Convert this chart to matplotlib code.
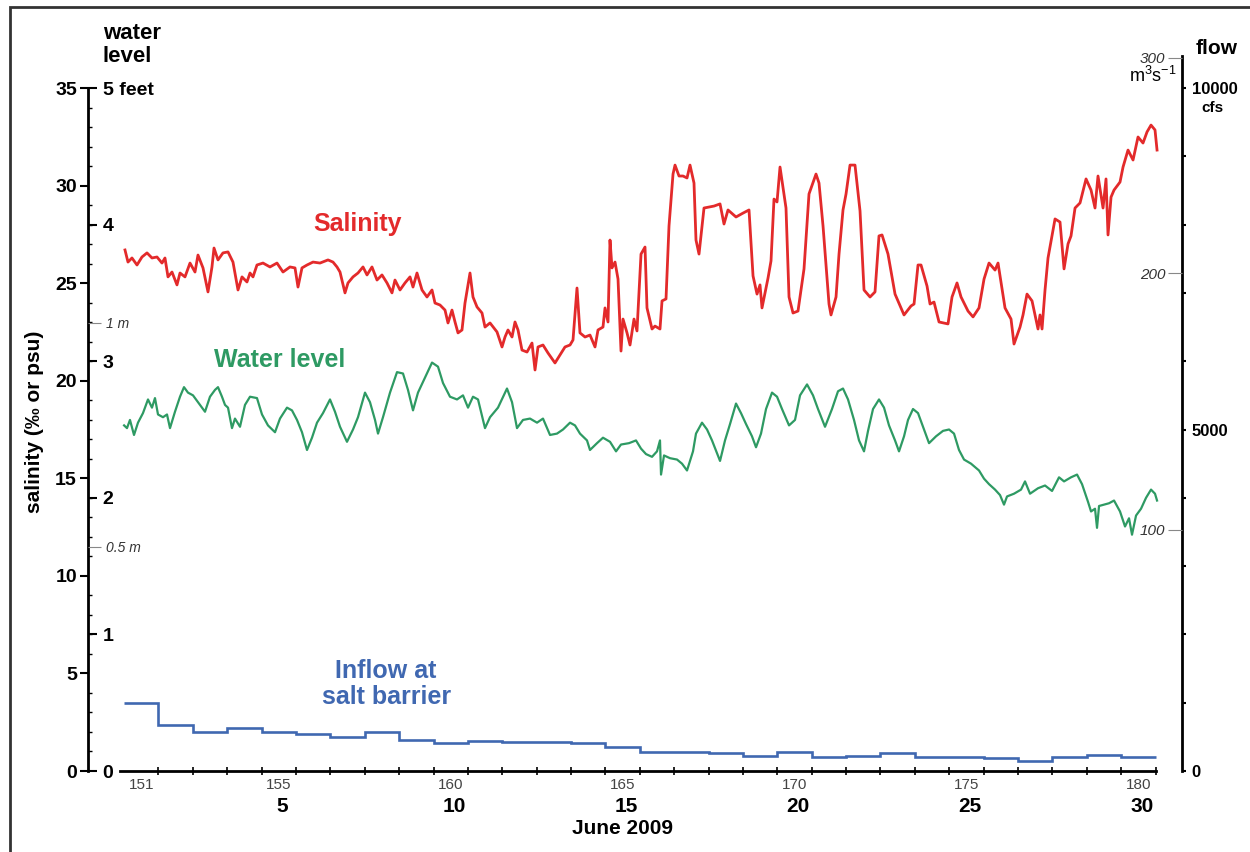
import matplotlib
matplotlib.use('Agg')
import matplotlib.pyplot as plt
from matplotlib.patches import Rectangle
from matplotlib.ticker import MultipleLocator, NullLocator, FixedLocator

plt.rcParams['font.family'] = ['Liberation Sans', 'DejaVu Sans']
plt.rcParams['mathtext.fontset'] = 'custom'
plt.rcParams['mathtext.rm'] = 'Liberation Sans'
plt.rcParams['mathtext.default'] = 'rm'

# ---- data (day of year 2009) ----
# salinity, psu
sal_day = [151.026, 151.113, 151.229, 151.375, 151.520, 151.666, 151.811, 151.957, 152.102, 152.189,
           152.277, 152.393, 152.538, 152.626, 152.771, 152.917, 153.062, 153.149, 153.295, 153.440,
           153.556, 153.615, 153.731, 153.876, 154.022, 154.167, 154.313, 154.429, 154.574, 154.662,
           154.749, 154.865, 155.040, 155.243, 155.447, 155.622, 155.825, 155.971, 156.058, 156.174,
           156.320, 156.494, 156.698, 156.931, 157.076, 157.192, 157.280, 157.425, 157.512, 157.658,
           157.803, 157.949, 158.065, 158.210, 158.356, 158.501, 158.647, 158.792, 158.879, 159.025,
           159.170, 159.316, 159.403, 159.519, 159.665, 159.810, 159.956, 160.043, 160.188, 160.334,
           160.421, 160.537, 160.625, 160.712, 160.828, 160.915, 161.061, 161.148, 161.265, 161.410,
           161.497, 161.643, 161.846, 161.992, 162.079, 162.166, 162.283, 162.370, 162.457, 162.573,
           162.719, 162.864, 162.952, 163.039, 163.184, 163.330, 163.533, 163.679, 163.824, 163.970,
           164.057, 164.173, 164.260, 164.406, 164.551, 164.697, 164.784, 164.929, 164.988, 165.075,
           165.133, 165.191, 165.279, 165.366, 165.453, 165.511, 165.628, 165.715, 165.831, 165.918,
           166.035, 166.151, 166.209, 166.355, 166.442, 166.587, 166.646, 166.762, 166.849, 166.966,
           167.024, 167.140, 167.256, 167.373, 167.460, 167.576, 167.634, 167.722, 167.867, 168.158,
           168.333, 168.449, 168.565, 168.798, 169.002, 169.176, 169.293, 169.409, 169.496, 169.554,
           169.729, 169.816, 169.903, 169.991, 170.078, 170.252, 170.340, 170.456, 170.601, 170.776,
           170.921, 171.125, 171.212, 171.329, 171.503, 171.561, 171.707, 171.794, 171.910, 171.998,
           172.114, 172.259, 172.405, 172.521, 172.696, 172.841, 172.957, 173.045, 173.219, 173.423,
           173.685, 173.888, 173.976, 174.092, 174.179, 174.354, 174.441, 174.557, 174.703, 174.964,
           175.081, 175.226, 175.343, 175.546, 175.692, 175.866, 176.012, 176.157, 176.332, 176.419,
           176.622, 176.797, 176.884, 177.059, 177.146, 177.262, 177.408, 177.582, 177.640, 177.699,
           177.786, 177.873, 178.077, 178.222, 178.339, 178.455, 178.542, 178.659, 178.804, 178.979,
           179.124, 179.240, 179.327, 179.473, 179.560, 179.618, 179.706, 179.793, 179.967, 180.055,
           180.200, 180.346, 180.491, 180.636, 180.753, 180.869, 180.985, 181.044]
sal_psu = [26.70, 26.08, 26.29, 25.93, 26.34, 26.55, 26.29, 26.34, 26.03, 26.29,
           25.32, 25.57, 24.91, 25.52, 25.32, 26.03, 25.57, 26.44, 25.78, 24.55,
           25.83, 26.80, 26.19, 26.55, 26.60, 26.08, 24.65, 25.32, 25.06, 25.52,
           25.32, 25.93, 26.03, 25.83, 26.03, 25.57, 25.83, 25.78, 24.80, 25.78,
           25.93, 26.08, 26.03, 26.19, 26.08, 25.83, 25.57, 24.50, 25.01, 25.32,
           25.52, 25.83, 25.42, 25.83, 25.16, 25.42, 25.01, 24.50, 25.16, 24.65,
           25.01, 25.32, 24.80, 25.52, 24.65, 24.29, 24.65, 23.98, 23.88, 23.62,
           22.96, 23.62, 23.01, 22.45, 22.60, 23.98, 25.52, 24.29, 23.78, 23.47,
           22.75, 22.96, 22.50, 21.73, 22.24, 22.60, 22.24, 23.01, 22.60, 21.57,
           21.47, 21.93, 20.55, 21.73, 21.83, 21.42, 20.91, 21.32, 21.73, 21.83,
           22.09, 24.75, 22.45, 22.24, 22.34, 21.73, 22.60, 22.75, 23.73, 23.01,
           27.21, 25.78, 26.08, 25.21, 21.52, 23.16, 22.45, 21.83, 23.16, 22.55,
           26.49, 26.85, 23.73, 22.65, 22.80, 22.65, 24.09, 24.19, 27.93, 30.59,
           31.05, 30.49, 30.49, 30.39, 31.05, 30.13, 27.21, 26.49, 28.85, 28.95,
           29.06, 28.03, 28.75, 28.39, 28.59, 28.75, 25.37, 24.44, 24.91, 23.73,
           25.26, 26.14, 29.31, 29.16, 30.95, 28.85, 24.29, 23.47, 23.57, 25.73,
           29.57, 30.59, 30.13, 27.93, 23.93, 23.37, 24.29, 26.49, 28.75, 29.57,
           31.05, 31.05, 28.70, 24.65, 24.29, 24.55, 27.42, 27.47, 26.49, 24.44,
           23.37, 23.83, 23.93, 25.93, 25.93, 24.85, 23.93, 24.03, 23.01, 22.91,
           24.29, 25.01, 24.29, 23.57, 23.27, 23.73, 25.21, 26.03, 25.67, 26.03,
           23.73, 23.16, 21.88, 22.75, 23.37, 24.44, 24.09, 22.65, 23.37, 22.65,
           24.65, 26.29, 28.29, 28.13, 25.73, 27.01, 27.42, 28.85, 29.11, 30.34,
           29.77, 28.85, 30.49, 28.85, 30.34, 27.47, 29.41, 29.77, 30.18, 30.95,
           31.82, 31.31, 32.49, 32.18, 32.75, 33.10, 32.85, 31.82]

# water level, feet
wl_day = [151.000, 151.084, 151.171, 151.288, 151.404, 151.549, 151.695, 151.811, 151.898, 151.986,
          152.131, 152.248, 152.335, 152.480, 152.626, 152.742, 152.858, 153.004, 153.149, 153.353,
          153.498, 153.644, 153.731, 153.847, 153.935, 154.022, 154.138, 154.225, 154.371, 154.516,
          154.662, 154.865, 155.011, 155.185, 155.389, 155.534, 155.738, 155.883, 156.029, 156.174,
          156.320, 156.465, 156.611, 156.785, 156.989, 157.134, 157.280, 157.483, 157.658, 157.803,
          158.007, 158.152, 158.298, 158.385, 158.530, 158.734, 158.938, 159.112, 159.257, 159.403,
          159.548, 159.752, 159.956, 160.130, 160.276, 160.479, 160.683, 160.857, 161.003, 161.148,
          161.294, 161.497, 161.643, 161.875, 162.137, 162.283, 162.428, 162.602, 162.806, 163.010,
          163.184, 163.388, 163.591, 163.766, 163.970, 164.115, 164.260, 164.464, 164.551, 164.755,
          164.929, 165.133, 165.308, 165.453, 165.686, 165.889, 166.035, 166.180, 166.355, 166.500,
          166.587, 166.617, 166.704, 166.878, 167.082, 167.227, 167.373, 167.547, 167.634, 167.809,
          167.955, 168.100, 168.333, 168.478, 168.624, 168.798, 168.943, 169.089, 169.263, 169.380,
          169.525, 169.671, 169.845, 169.991, 170.136, 170.340, 170.514, 170.660, 170.864, 171.038,
          171.183, 171.387, 171.590, 171.765, 171.910, 172.056, 172.230, 172.376, 172.521, 172.638,
          172.783, 172.957, 173.103, 173.248, 173.423, 173.539, 173.685, 173.801, 173.946, 174.092,
          174.237, 174.412, 174.615, 174.819, 174.994, 175.139, 175.284, 175.430, 175.633, 175.866,
          176.012, 176.157, 176.332, 176.477, 176.593, 176.681, 176.884, 177.088, 177.204, 177.350,
          177.582, 177.786, 177.990, 178.193, 178.339, 178.542, 178.717, 178.862, 179.037, 179.124,
          179.240, 179.298, 179.357, 179.502, 179.647, 179.793, 179.967, 180.113, 180.229, 180.316,
          180.433, 180.578, 180.724, 180.869, 180.985, 181.044]
wl_ft = [2.53, 2.51, 2.57, 2.46, 2.55, 2.62, 2.72, 2.66, 2.73, 2.61,
         2.59, 2.61, 2.51, 2.63, 2.74, 2.81, 2.77, 2.75, 2.70, 2.63,
         2.74, 2.79, 2.81, 2.74, 2.68, 2.66, 2.51, 2.58, 2.52, 2.68,
         2.74, 2.73, 2.61, 2.53, 2.48, 2.58, 2.66, 2.64, 2.57, 2.48,
         2.35, 2.44, 2.55, 2.62, 2.72, 2.63, 2.52, 2.41, 2.50, 2.59,
         2.77, 2.70, 2.57, 2.47, 2.59, 2.77, 2.92, 2.91, 2.79, 2.64,
         2.77, 2.88, 2.99, 2.96, 2.84, 2.74, 2.72, 2.75, 2.66, 2.74,
         2.72, 2.51, 2.59, 2.66, 2.80, 2.70, 2.51, 2.57, 2.58, 2.55,
         2.58, 2.46, 2.47, 2.50, 2.55, 2.53, 2.47, 2.42, 2.35, 2.40,
         2.44, 2.41, 2.34, 2.39, 2.40, 2.42, 2.36, 2.32, 2.30, 2.34,
         2.42, 2.17, 2.31, 2.29, 2.28, 2.25, 2.20, 2.34, 2.47, 2.55,
         2.50, 2.42, 2.27, 2.42, 2.54, 2.69, 2.62, 2.54, 2.45, 2.37,
         2.47, 2.65, 2.77, 2.74, 2.65, 2.53, 2.57, 2.75, 2.83, 2.75,
         2.65, 2.52, 2.65, 2.78, 2.80, 2.72, 2.57, 2.42, 2.34, 2.49,
         2.65, 2.72, 2.66, 2.53, 2.42, 2.34, 2.45, 2.57, 2.65, 2.62,
         2.52, 2.40, 2.45, 2.49, 2.50, 2.47, 2.35, 2.28, 2.25, 2.20,
         2.14, 2.10, 2.06, 2.02, 1.95, 2.01, 2.03, 2.06, 2.12, 2.03,
         2.07, 2.09, 2.05, 2.15, 2.12, 2.15, 2.17, 2.10, 1.97, 1.90,
         1.92, 1.78, 1.94, 1.95, 1.96, 1.98, 1.90, 1.79, 1.85, 1.73,
         1.87, 1.92, 2.00, 2.06, 2.03, 1.98]

# daily inflow at the salt barrier, cfs (one value per day, days 151..180)
inflow_day = list(range(151, 181))
inflow_cfs = [1000, 670, 565, 625, 565, 535, 500, 575, 460, 415,
              440, 425, 425, 415, 350, 285, 285, 260, 220, 285,
              200, 225, 270, 210, 210, 185, 150, 210, 235, 210]

# axis labels
julian_labels = [151, 155, 160, 165, 170, 175, 180]
june_labels = [5, 10, 15, 20, 25, 30]
sal_ticks = [0, 5, 10, 15, 20, 25, 30, 35]
ft_ticks = [0, 1, 2, 3, 4, 5]
ft_labels = ['0', '1', '2', '3', '4', '5 feet']
metre_ticks = [0.5, 1.0]
metre_labels = ['0.5 m', '1 m']
cfs_ticks = [0, 5000, 10000]
m3s_labels = ['100', '200', '300']
m3s_at_cfs = [3530, 7290, 10440]   # where the m3/s marks sit on the printed cfs scale

red = '#e32a2b'
green = '#2e9a63'
blue = '#4068b1'

sal_top = 36.64
ft_per_sal = 5 / 35
cfs_per_sal = 10000 / 35

fig = plt.figure(figsize=(12.5, 8.52), dpi=100)
ax = fig.add_axes([88 / 1250, 81 / 852, 1094 / 1250, 715 / 852])
ax.patch.set_alpha(0)

# salinity
ax.plot(sal_day, sal_psu, color=red, lw=2.0)
ax.set_ylim(0, sal_top)
ax.spines['top'].set_visible(False)
ax.spines['right'].set_visible(False)
ax.spines['left'].set_bounds(0, 35)
ax.spines['bottom'].set_bounds(150.88, 181)
ax.spines['left'].set_linewidth(2)
ax.spines['bottom'].set_linewidth(2)
ax.set_yticks(sal_ticks)
ax.yaxis.set_minor_locator(FixedLocator([v for v in range(1, 35) if v % 5]))
ax.tick_params(axis='y', which='major', length=6, width=1.5, pad=2, labelsize=14)
ax.tick_params(axis='y', which='minor', length=3, width=1, direction='in')
for t in ax.get_yticklabels():
    t.set_fontweight('bold')

ax.set_xticks([d + 0.5 for d in julian_labels], labels=[str(d) for d in julian_labels])
ax.set_xticks(range(152, 182), minor=True)
ax.tick_params(axis='x', which='major', length=0, pad=5, labelsize=11, labelcolor='#444')
ax.tick_params(axis='x', which='minor', length=6, width=1.2, direction='inout')

sec = ax.secondary_xaxis('bottom')
sec.set_xticks([150 + d + 0.6 for d in june_labels], labels=[str(d) for d in june_labels])
sec.xaxis.set_minor_locator(NullLocator())
sec.tick_params(length=0, pad=19, labelsize=15)
sec.spines['bottom'].set_visible(False)
for t in sec.get_xticklabels():
    t.set_fontweight('bold')

# water level on the same left spine
ax_ft = ax.twinx()
ax_ft.plot(wl_day, wl_ft, color=green, lw=1.6)
ax_ft.set_ylim(0, sal_top * ft_per_sal)
for s in ax_ft.spines.values():
    s.set_visible(False)
ax_ft.spines['right'].set_position(('axes', 0))
ax_ft.set_yticks(ft_ticks, labels=ft_labels)
ax_ft.set_yticks([m / 0.3048 for m in metre_ticks], labels=metre_labels, minor=True)
ax_ft.tick_params(axis='y', which='major', length=6.5, width=1.5, pad=4, labelsize=14)
ax_ft.tick_params(axis='y', which='minor', length=9, width=0.8, color='#888', pad=4,
                  labelsize=10, labelcolor='#333')
for t in ax_ft.get_yticklabels():
    t.set_fontweight('bold')
for t in ax_ft.get_yticklabels(minor=True):
    t.set_fontstyle('italic')

# inflow (cfs) on the right
ax_q = ax.twinx()
edges = inflow_day + [inflow_day[-1] + 1]
ax_q.stairs(inflow_cfs, edges, color=blue, lw=1.9, baseline=None)
ax_q.set_ylim(0, sal_top * cfs_per_sal)
for k in ['top', 'left', 'bottom']:
    ax_q.spines[k].set_visible(False)
ax_q.spines['right'].set_linewidth(2)
ax_q.set_yticks(cfs_ticks, labels=[str(v) for v in cfs_ticks])
ax_q.yaxis.set_minor_locator(MultipleLocator(1000))
ax_q.tick_params(axis='y', which='both', length=3, width=1.5, pad=4, labelsize=12)
for t in ax_q.get_yticklabels():
    t.set_fontweight('bold')

# m3/s marks on the inner side of the right spine
ax_m = ax.twinx()
ax_m.set_ylim(0, sal_top * cfs_per_sal)
for s in ax_m.spines.values():
    s.set_visible(False)
ax_m.spines['left'].set_position(('axes', 1))
ax_m.yaxis.tick_left()
ax_m.set_yticks(m3s_at_cfs, labels=m3s_labels)
ax_m.tick_params(axis='y', length=10, width=0.8, color='#888', pad=2, labelsize=11,
                 labelcolor='#333')
for t in ax_m.get_yticklabels():
    t.set_fontstyle('italic')

ax.set_xlim(149.95, 181.77)

# series names
ax.text(157.80, 28.03, 'Salinity', color=red, fontsize=18, fontweight='bold',
        ha='center', va='center')
ax.text(155.53, 21.06, 'Water level', color=green, fontsize=18, fontweight='bold',
        ha='center', va='center')
ax.text(158.62, 4.46, 'Inflow at\nsalt barrier', color=blue, fontsize=18, fontweight='bold',
        ha='center', va='center', linespacing=1.1)

# axis titles
fig.text(103 / 1250, 1 - 45 / 852, 'water\nlevel', ha='left', va='center', fontsize=16,
         fontweight='bold', linespacing=1.15)
fig.text(35 / 1250, 1 - 422 / 852, 'salinity (‰ or psu)', rotation=90, ha='center',
         va='center', fontsize=15, fontweight='bold')
fig.text(1196 / 1250, 1 - 48 / 852, 'flow', ha='left', va='center', fontsize=15,
         fontweight='bold')
fig.text(1177 / 1250, 1 - 76 / 852, r'm$^3$s$^{-1}$', ha='right', va='center', fontsize=13)
fig.text(1212 / 1250, 1 - 108 / 852, 'cfs', ha='center', va='center', fontsize=11,
         fontweight='bold')
fig.text(622 / 1250, 1 - 829 / 852, 'June 2009', ha='center', va='center', fontsize=15,
         fontweight='bold')

# outer frame
fig.add_artist(Rectangle((10 / 1250, -0.1), 1.2, 1.1 - 7 / 852, transform=fig.transFigure,
                         fill=False, lw=2, edgecolor='#333'))

fig.savefig('out.png', dpi=100)
